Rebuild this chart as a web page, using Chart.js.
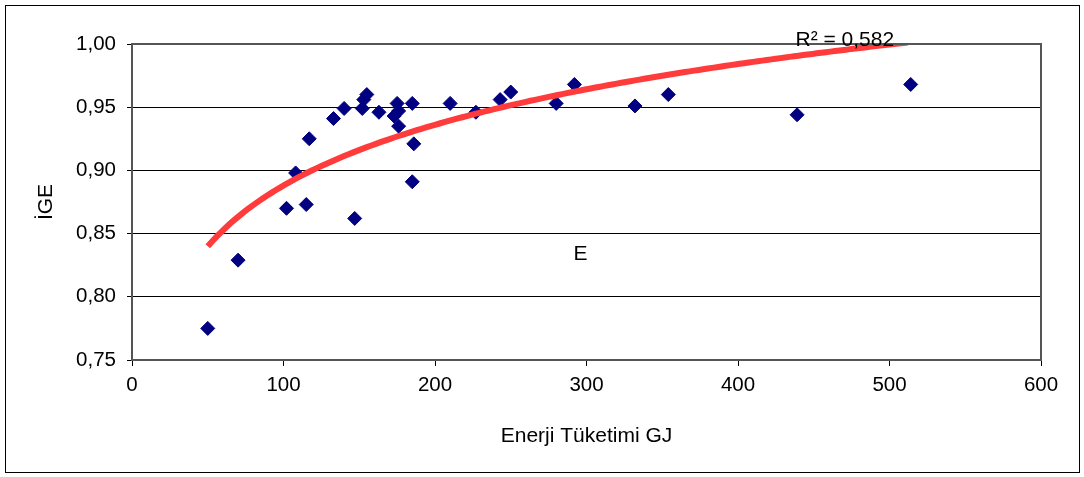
<!DOCTYPE html>
<html>
<head>
<meta charset="utf-8">
<script src="https://cdn.jsdelivr.net/npm/chart.js@4.4.1/dist/chart.umd.min.js"></script>
<style>
  html, body { margin: 0; padding: 0; background: #fff; }
  #wrap { width: 1084px; height: 477px; }
</style>
</head>
<body>
<div id="wrap"><canvas id="igeChart"></canvas></div>
<script>
// values: energy use (GJ) and IGE
const energyGJ = [50, 70, 102, 108, 115, 117, 133, 140, 147, 152, 153, 155, 163, 173, 175,
                  176, 176, 185, 186, 185, 210, 227, 243, 250, 280, 292, 332, 354, 439, 514];
const igeValues = [0.775, 0.829, 0.870, 0.898, 0.873, 0.925, 0.941, 0.949, 0.862, 0.949, 0.956, 0.960, 0.946, 0.943, 0.953,
                   0.947, 0.935, 0.953, 0.921, 0.891, 0.953, 0.946, 0.956, 0.962, 0.953, 0.968, 0.951, 0.960, 0.944, 0.968];
const xTicks = [0, 100, 200, 300, 400, 500, 600];
const yTicks = [0.75, 0.80, 0.85, 0.90, 0.95, 1.00];
const r2Label = 'R² = 0,582';
const seriesLabel = 'E';

// logarithmic trend line (least squares on ln x), like the Excel one
let sx = 0, sy = 0, sxx = 0, sxy = 0;
energyGJ.forEach((x, i) => {
  const lx = Math.log(x);
  sx += lx; sy += igeValues[i]; sxx += lx * lx; sxy += lx * igeValues[i];
});
const n = energyGJ.length;
const slope = (n * sxy - sx * sy) / (n * sxx - sx * sx);
const icpt = (sy - slope * sx) / n;
const xMin = Math.min(...energyGJ), xMax = Math.max(...energyGJ);
const trend = [];
for (let x = xMin; x <= xMax; x += 3) trend.push({ x: x, y: slope * Math.log(x) + icpt });

const points = energyGJ.map((x, i) => ({ x: x, y: igeValues[i] }));
const FONT = "'Liberation Sans', Arial, sans-serif";

const framePlugin = {
  id: 'frame',
  afterDraw(chart) {
    const { ctx, chartArea: a, scales } = chart;
    ctx.save();
    // outer frame
    ctx.strokeStyle = '#000';
    ctx.lineWidth = 1;
    ctx.strokeRect(5.5, 5.5, 1074, 467);
    // plot area frame
    ctx.strokeStyle = '#555';
    ctx.lineWidth = 2;
    ctx.strokeRect(a.left, a.top, a.right - a.left, a.bottom - a.top);
    // text labels
    ctx.fillStyle = '#000';
    ctx.font = '21px ' + FONT;
    ctx.textAlign = 'center';
    ctx.textBaseline = 'middle';
    ctx.fillText(r2Label, scales.x.getPixelForValue(470.5), scales.y.getPixelForValue(1.0032));
    ctx.fillText(seriesLabel, scales.x.getPixelForValue(296), scales.y.getPixelForValue(0.8335));
    ctx.restore();
  }
};

new Chart(document.getElementById('igeChart'), {
  type: 'scatter',
  data: {
    datasets: [{
      label: 'trend',
      data: trend,
      showLine: true,
      borderColor: '#ff3b3b',
      borderWidth: 6,
      pointRadius: 0,
      order: 0
    }, {
      label: 'E',
      data: points,
      pointStyle: 'rectRot',
      pointRadius: 7,
      backgroundColor: '#000080',
      borderColor: '#000080',
      borderWidth: 1,
      order: 1
    }]
  },
  options: {
    responsive: true,
    maintainAspectRatio: false,
    animation: false,
    layout: { padding: { left: 31, top: 44, right: 43, bottom: 0 } },
    plugins: { legend: { display: false }, tooltip: { enabled: false } },
    scales: {
      x: {
        type: 'linear',
        min: 0, max: 600,
        afterBuildTicks: s => { s.ticks = xTicks.map(v => ({ value: v })); },
        afterFit: s => { s.height = 117; },
        grid: { drawOnChartArea: false, tickLength: 6, color: '#000' },
        border: { display: true, color: '#555', width: 2 },
        ticks: { color: '#000', font: { family: FONT, size: 20.5 }, padding: 7 },
        title: {
          display: true, text: 'Enerji Tüketimi GJ', color: '#000',
          font: { family: FONT, size: 21 }, padding: { top: 4, bottom: 28 }
        }
      },
      y: {
        type: 'linear',
        min: 0.75, max: 1.0,
        afterBuildTicks: s => { s.ticks = yTicks.map(v => ({ value: v })); },
        afterFit: s => { s.width = 101; },
        grid: { color: '#000', lineWidth: 1, tickLength: 5 },
        border: { display: true, color: '#555', width: 2 },
        ticks: {
          color: '#000', font: { family: FONT, size: 20.5 }, padding: 11,
          callback: v => v.toFixed(2).replace('.', ',')
        },
        title: {
          display: true, text: 'İGE', color: '#000',
          font: { family: FONT, size: 21 }, padding: { top: 3, bottom: 4 }
        }
      }
    }
  },
  plugins: [framePlugin]
});
</script>
</body>
</html>
